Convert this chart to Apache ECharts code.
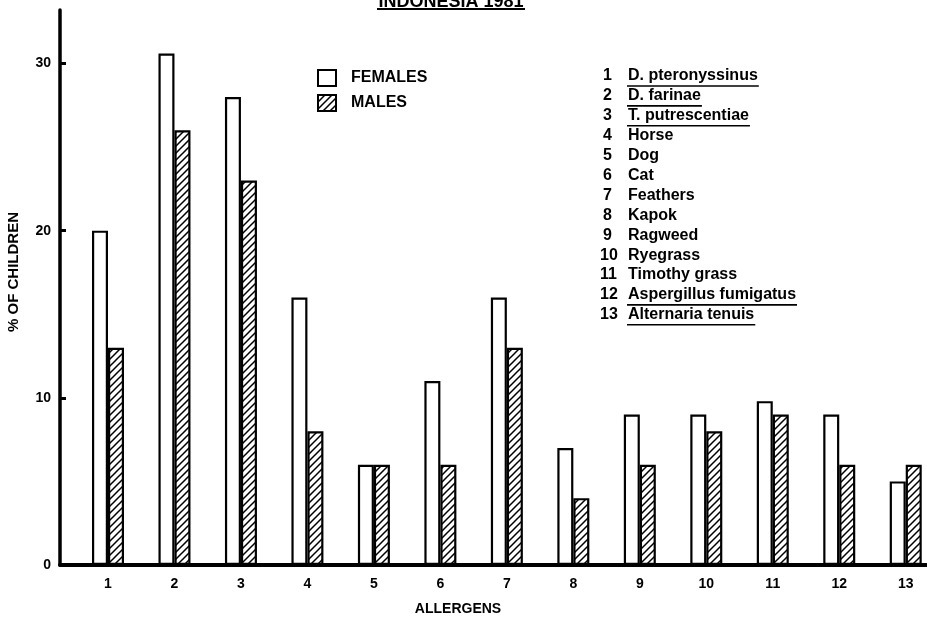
<!DOCTYPE html>
<html><head><meta charset="utf-8">
<script src="https://cdn.jsdelivr.net/npm/echarts@6/dist/echarts.min.js"></script>
<style>html,body{margin:0;padding:0;background:#fff}#c{width:927px;height:620px}</style>
</head><body><div id="c"></div>
<script>
// ---- data ----
const allergenNumbers = [1,2,3,4,5,6,7,8,9,10,11,12,13];
const females = [20, 30.6, 28, 16, 6, 11, 16, 7, 9, 9, 9.8, 9, 5];
const males   = [13, 26, 23, 8, 6, 6, 13, 4, 6, 8, 9, 6, 6];
const allergenNames = ['D. pteronyssinus','D. farinae','T. putrescentiae','Horse','Dog','Cat','Feathers','Kapok','Ragweed','Ryegrass','Timothy grass','Aspergillus fumigatus','Alternaria tenuis'];
const underlinedNames = [true,true,true,false,false,false,false,false,false,false,false,true,true];
const yTickValues = [0,10,20,30];
const titleText = 'INDONESIA 1981';
const seriesNames = ['FEMALES','MALES'];

const FONT = '"Liberation Sans", Arial, Helvetica, sans-serif';

// hatch pattern
function hatch(){
  const s = 7, c = document.createElement('canvas');
  c.width = s; c.height = s;
  const g = c.getContext('2d');
  g.fillStyle = '#fff'; g.fillRect(0,0,s,s);
  g.strokeStyle = '#000'; g.lineWidth = 1.5;
  g.beginPath();
  g.moveTo(-1, s+1); g.lineTo(s+1, -1);
  g.moveTo(-1, 1); g.lineTo(1, -1);
  g.moveTo(s-1, s+1); g.lineTo(s+1, s-1);
  g.stroke();
  return c;
}
const measure = (() => { const c = document.createElement('canvas').getContext('2d'); c.font = 'bold 16px ' + FONT; return t => c.measureText(t).width; })();

const graphic = [];
// title (cut off at the top)
graphic.push({type:'text', x:451, y:11, style:{text:titleText, font:'bold 18px ' + FONT, fill:'#000', align:'center', verticalAlign:'bottom'}});
graphic.push({type:'line', shape:{x1:377,y1:9,x2:525,y2:9}, style:{stroke:'#000', lineWidth:2.2}});
// y axis name
graphic.push({type:'text', x:14, y:272, rotation:Math.PI/2, style:{text:'% OF CHILDREN', font:'bold 15px ' + FONT, fill:'#000', align:'center', verticalAlign:'middle'}});
// x axis name
graphic.push({type:'text', x:458, y:609, style:{text:'ALLERGENS', font:'bold 14px ' + FONT, fill:'#000', align:'center', verticalAlign:'middle'}});
// allergen list
allergenNames.forEach((n, i) => {
  const y = 76 + i * 19.9;
  const num = String(allergenNumbers[i]);
  graphic.push({type:'text', x: num.length > 1 ? 600 : 603, y, style:{text:num, font:'bold 16px ' + FONT, fill:'#000', align:'left', verticalAlign:'middle'}});
  graphic.push({type:'text', x:628, y, style:{text:n, font:'bold 16px ' + FONT, fill:'#000', align:'left', verticalAlign:'middle'}});
  if (underlinedNames[i]) {
    const w = measure(n);
    graphic.push({type:'line', shape:{x1:627, y1:y+10, x2:629+w, y2:y+10}, style:{stroke:'#000', lineWidth:1.6}});
  }
});

const chart = echarts.init(document.getElementById('c'), null, {renderer:'canvas'});
chart.setOption({
  backgroundColor:'#fff',
  animation:false,
  grid:{left:60, right:0, top:10, bottom:55, containLabel:false},
  legend:{
    orient:'vertical', left:312, top:64, itemWidth:18, itemHeight:16, itemGap:7,
    icon:'rect',
    textStyle:{fontFamily:FONT, fontWeight:'bold', fontSize:16, color:'#000', padding:[0,0,0,10]},
    data:seriesNames
  },
  xAxis:{
    type:'value', min:0.278, max:13.32,
    splitLine:{show:false},
    axisLine:{show:true, onZero:false, lineStyle:{color:'#000', width:4}},
    axisTick:{show:false},
    axisLabel:{customValues:allergenNumbers, fontFamily:FONT, fontWeight:'bold', fontSize:14, color:'#000', margin:12}
  },
  yAxis:{
    type:'value', min:0, max:33.2,
    splitLine:{show:false},
    axisLine:{show:true, lineStyle:{color:'#000', width:3.5}},
    axisTick:{show:true, inside:true, length:6, customValues:yTickValues, lineStyle:{color:'#000', width:3}},
    axisLabel:{customValues:yTickValues, fontFamily:FONT, fontWeight:'bold', fontSize:14, color:'#000', margin:9}
  },
  series:[
    {name:seriesNames[0], type:'bar', barWidth:16, barGap:'0%',
     data: allergenNumbers.map((x,i)=>[x, females[i]]),
     itemStyle:{color:'#fff', borderColor:'#000', borderWidth:2.2}},
    {name:seriesNames[1], type:'bar', barWidth:16, barGap:'0%',
     data: allergenNumbers.map((x,i)=>[x, males[i]]),
     itemStyle:{color:{image:hatch(), repeat:'repeat'}, borderColor:'#000', borderWidth:2.2}}
  ],
  graphic
});
</script></body></html>
